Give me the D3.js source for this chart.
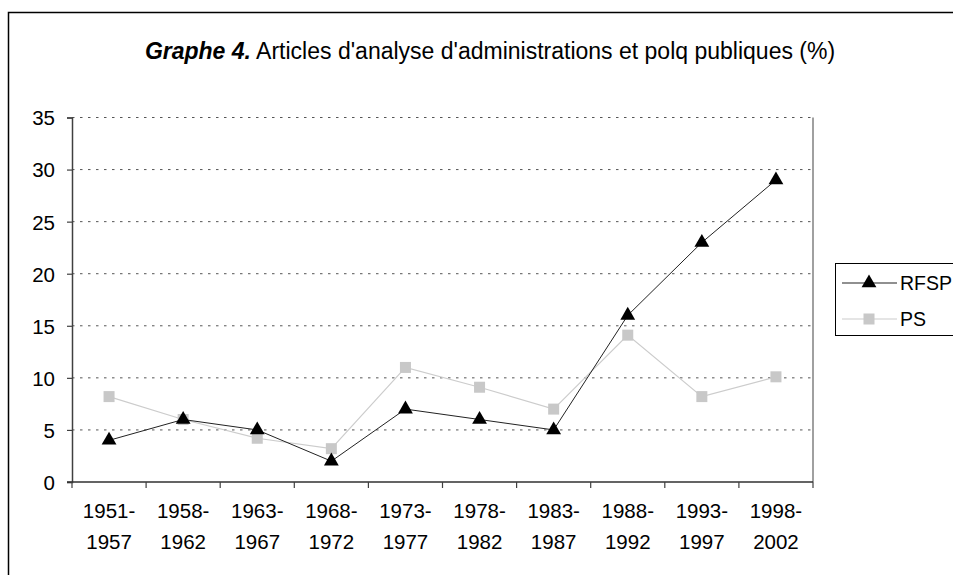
<!DOCTYPE html>
<html>
<head>
<meta charset="utf-8">
<script src="https://cdn.jsdelivr.net/npm/d3@7"></script>
<style>
  html, body { margin: 0; padding: 0; background: #fff; }
  svg { display: block; font-family: "Liberation Sans", Arial, sans-serif; }
</style>
</head>
<body>
<svg id="chart" width="953" height="575"></svg>
<script>
// ---- data ----
const categories = ["1951-1957", "1958-1962", "1963-1967", "1968-1972", "1973-1977",
                    "1978-1982", "1983-1987", "1988-1992", "1993-1997", "1998-2002"];
const rfsp = [4, 6, 5, 2, 7, 6, 5, 16, 23, 29];
const ps = [8.2, 6, 4.2, 3.2, 11, 9.1, 7, 14.1, 8.2, 10.1];
const yTicks = [0, 5, 10, 15, 20, 25, 30, 35];
const seriesNames = ["RFSP", "PS"];
const titleBold = "Graphe 4.";
const titleRest = " Articles d'analyse d'administrations et polq publiques (%)";

// ---- layout ----
const svg = d3.select("#chart");
const plot = { left: 72, right: 813, top: 117.5, bottom: 482 };
const labelSize = 20.5;

const x = d3.scaleBand().domain(categories).range([plot.left, plot.right]);
const y = d3.scaleLinear().domain([0, 35]).range([plot.bottom, plot.top]);

// outer chart border
svg.append("rect")
  .attr("x", 8.5).attr("y", 12.5)
  .attr("width", 1000).attr("height", 600)
  .attr("fill", "none").attr("stroke", "#000").attr("stroke-width", 1.5);

// title
const title = svg.append("text")
  .attr("x", 490).attr("y", 59)
  .attr("text-anchor", "middle")
  .attr("font-size", 23)
  .attr("fill", "#000");
title.append("tspan").attr("font-weight", "bold").attr("font-style", "italic").text(titleBold);
title.append("tspan").text(titleRest);

// gridlines
svg.append("g")
  .selectAll("line")
  .data(yTicks.filter(d => d > 0))
  .join("line")
  .attr("x1", plot.left).attr("x2", plot.right)
  .attr("y1", d => y(d)).attr("y2", d => y(d))
  .attr("stroke", "#555").attr("stroke-width", 1)
  .attr("stroke-dasharray", "2.5,5.5");

// right plot border
svg.append("line")
  .attr("x1", plot.right).attr("x2", plot.right)
  .attr("y1", plot.top).attr("y2", plot.bottom)
  .attr("stroke", "#808080").attr("stroke-width", 1.5);

// y axis
const yAxis = d3.axisLeft(y).tickValues(yTicks).tickSize(5).tickPadding(12);
const gy = svg.append("g").attr("transform", `translate(${plot.left},0)`).call(yAxis);
gy.select(".domain").attr("stroke", "#404040").attr("stroke-width", 1.5);
gy.selectAll(".tick line").attr("stroke", "#404040").attr("stroke-width", 1.2);
gy.selectAll(".tick text")
  .attr("font-size", labelSize).attr("font-family", "Liberation Sans, Arial, sans-serif")
  .attr("fill", "#000").attr("dy", "0.36em");

// x axis (ticks at category boundaries)
const boundaries = categories.map(c => x(c)).concat([x(categories[categories.length - 1]) + x.bandwidth()]);
svg.append("line")
  .attr("x1", plot.left - 5).attr("x2", plot.right)
  .attr("y1", plot.bottom).attr("y2", plot.bottom)
  .attr("stroke", "#303030").attr("stroke-width", 1.5);
svg.append("g").selectAll("line")
  .data(boundaries)
  .join("line")
  .attr("x1", d => d).attr("x2", d => d)
  .attr("y1", plot.bottom).attr("y2", plot.bottom + 6)
  .attr("stroke", "#404040").attr("stroke-width", 1.2);

const xl = svg.append("g").selectAll("text")
  .data(categories)
  .join("text")
  .attr("text-anchor", "middle")
  .attr("font-size", labelSize)
  .attr("fill", "#000");
xl.append("tspan")
  .attr("x", d => x(d) + x.bandwidth() / 2)
  .attr("y", 518)
  .text(d => d.split("-")[0] + "-");
xl.append("tspan")
  .attr("x", d => x(d) + x.bandwidth() / 2)
  .attr("y", 549)
  .text(d => d.split("-")[1]);

const cx = (d, i) => x(categories[i]) + x.bandwidth() / 2;
const line = d3.line().x((d, i) => cx(d, i)).y(d => y(d));

// PS series
svg.append("path").datum(ps)
  .attr("d", line).attr("fill", "none")
  .attr("stroke", "#cccccc").attr("stroke-width", 1.2);
svg.append("g").selectAll("rect")
  .data(ps)
  .join("rect")
  .attr("x", (d, i) => cx(d, i) - 5.5).attr("y", d => y(d) - 5.5)
  .attr("width", 11).attr("height", 11)
  .attr("fill", "#c8c8c8");

// RFSP series
svg.append("path").datum(rfsp)
  .attr("d", line).attr("fill", "none")
  .attr("stroke", "#222").attr("stroke-width", 1);
const tri = d3.symbol().type(d3.symbolTriangle).size(95);
svg.append("g").selectAll("path")
  .data(rfsp)
  .join("path")
  .attr("transform", (d, i) => `translate(${cx(d, i)},${y(d)})`)
  .attr("d", tri)
  .attr("fill", "#000");

// legend
const lg = svg.append("g");
lg.append("rect")
  .attr("x", 835.5).attr("y", 263.5)
  .attr("width", 140).attr("height", 72)
  .attr("fill", "#fff").attr("stroke", "#000").attr("stroke-width", 1);
const legendRows = [
  { name: seriesNames[0], color: "#222", marker: "tri", y: 283 },
  { name: seriesNames[1], color: "#cccccc", marker: "sq", y: 319 }
];
legendRows.forEach(r => {
  lg.append("line")
    .attr("x1", 842).attr("x2", 897)
    .attr("y1", r.y).attr("y2", r.y)
    .attr("stroke", r.color).attr("stroke-width", 1.2);
  if (r.marker === "tri") {
    lg.append("path").attr("d", tri)
      .attr("transform", `translate(869,${r.y})`).attr("fill", "#000");
  } else {
    lg.append("rect").attr("x", 869 - 5.5).attr("y", r.y - 5.5)
      .attr("width", 11).attr("height", 11).attr("fill", "#c8c8c8");
  }
  lg.append("text")
    .attr("x", 900).attr("y", r.y + 7)
    .attr("font-size", 19.5).attr("fill", "#000")
    .text(r.name);
});
</script>
</body>
</html>
